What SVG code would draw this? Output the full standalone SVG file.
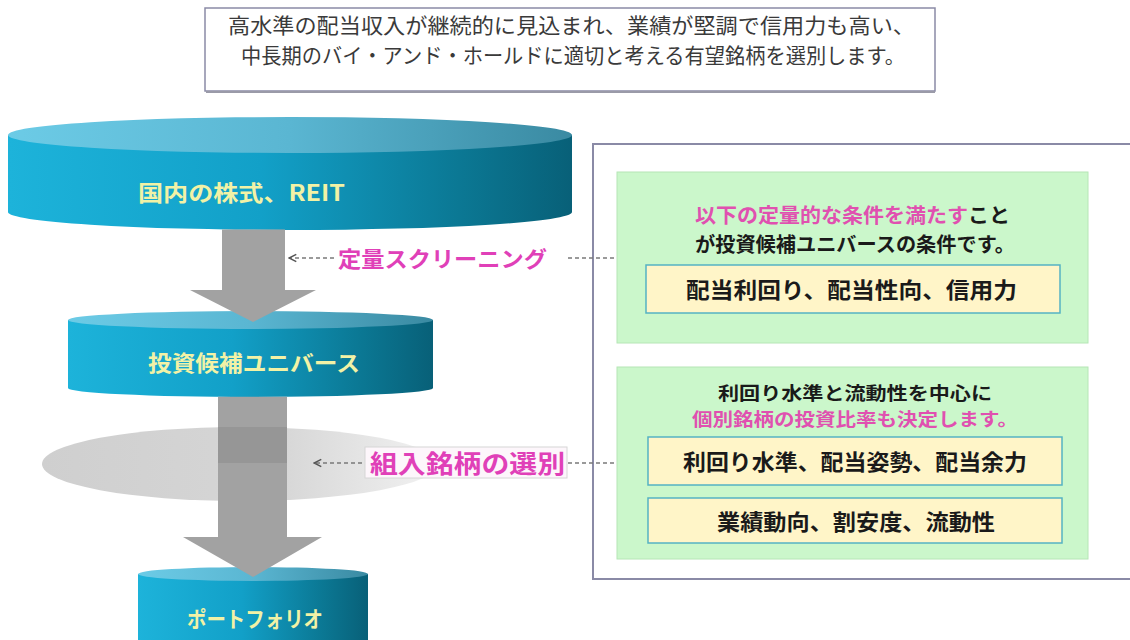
<svg xmlns="http://www.w3.org/2000/svg" width="1130" height="640" viewBox="0 0 1130 640">
<style>
.t{font-family:"Noto Sans CJK JP","Noto Sans",sans-serif;}
.cyl{font-weight:700;fill:#f2f2a6;font-size:22px;}
.lbl{font-weight:700;fill:#e040b8;}
.blk{font-weight:700;fill:#1a1a1a;font-size:18px;}
.pk{font-weight:700;fill:#e050b0;font-size:18px;}
.ybt{font-weight:700;fill:#1a1a1a;font-size:22px;}
.green{fill:#cbf7cb;stroke:#b6e6b6;stroke-width:1;}
.ybox{fill:#fff5c8;stroke:#55b2c4;stroke-width:1.5;}
.dash{stroke:#7a7a7a;stroke-width:1.3;stroke-dasharray:4 3;fill:none;}
.shaft{fill:#a2a2a2;}
</style>
<defs>
<linearGradient id="body" x1="0" y1="0" x2="1" y2="0">
<stop offset="0" stop-color="#1db3da"/>
<stop offset="0.45" stop-color="#12a0c8"/>
<stop offset="0.8" stop-color="#0b7894"/>
<stop offset="1" stop-color="#086078"/>
</linearGradient>
<linearGradient id="top" x1="0" y1="0" x2="1" y2="0">
<stop offset="0" stop-color="#6ccbe6"/>
<stop offset="0.5" stop-color="#5ab6d2"/>
<stop offset="1" stop-color="#3a8aa2"/>
</linearGradient>
<linearGradient id="gray" x1="0" y1="0" x2="1" y2="0">
<stop offset="0" stop-color="#cfcfcf"/>
<stop offset="0.6" stop-color="#d6d6d6"/>
<stop offset="1" stop-color="#f2f2f2"/>
</linearGradient>
<marker id="open" viewBox="0 0 10 10" refX="9" refY="5" markerWidth="7" markerHeight="7" orient="auto">
<path d="M1 1 L9 5 L1 9" fill="none" stroke="#555" stroke-width="1.6"/>
</marker>
</defs>

<g id="intro">
<rect x="205" y="8" width="730" height="83" fill="#fff" stroke="#8a8aa6" stroke-width="1.5"/>
<line x1="206" y1="92" x2="935" y2="92" stroke="#9a9aa8" stroke-width="2"/>
<text class="t" x="228" y="33" font-size="21" fill="#3a3a3a" textLength="687" lengthAdjust="spacingAndGlyphs">高水準の配当収入が継続的に見込まれ、業績が堅調で信用力も高い、</text>
<text class="t" x="241" y="63" font-size="21" fill="#3a3a3a" textLength="664" lengthAdjust="spacingAndGlyphs">中長期のバイ・アンド・ホールドに適切と考える有望銘柄を選別します。</text>
</g>

<g id="panel">
<rect x="593" y="144" width="545" height="435" fill="#fff" stroke="#8a8aa6" stroke-width="2"/>
</g>

<g id="selection-disc">
<ellipse cx="240" cy="464" rx="198" ry="37" fill="url(#gray)"/>
</g>

<g id="universe-all">
<path d="M8 135 V212 A282 18 0 0 0 572 212 V135 Z" fill="url(#body)"/>
<ellipse cx="290" cy="135" rx="282" ry="18" fill="url(#top)"/>
<text class="t cyl" x="138" y="201" textLength="207" lengthAdjust="spacingAndGlyphs">国内の株式、REIT</text>
</g>

<g id="universe-candidates">
<path d="M68 320 V388 A182.5 9 0 0 0 433 388 V320 Z" fill="url(#body)"/>
<ellipse cx="250.5" cy="320" rx="182.5" ry="9" fill="url(#top)"/>
<text class="t cyl" x="148" y="371" textLength="212" lengthAdjust="spacingAndGlyphs">投資候補ユニバース</text>
</g>

<g id="portfolio">
<path d="M138 574 V645 A115 7 0 0 0 368 645 V574 Z" fill="url(#body)"/>
<ellipse cx="253" cy="574" rx="115" ry="7" fill="url(#top)"/>
<text class="t cyl" x="187" y="627" textLength="136" lengthAdjust="spacingAndGlyphs">ポートフォリオ</text>
</g>

<g id="connectors">
<path class="shaft" d="M222 229.5 L285 229.5 L285 290 L316 290 L253 322 L190 290 L222 290 Z"/>
<path class="shaft" d="M218 396.8 L287 396.8 L287 537 L322 537 L253 577 L183 537 L218 537 Z"/>
<rect x="218" y="427" width="69" height="36" fill="#000" opacity="0.07"/>
<line class="dash" x1="334" y1="258" x2="289" y2="258" marker-end="url(#open)"/>
<line class="dash" x1="568" y1="258" x2="617" y2="258"/>
<line class="dash" x1="362" y1="463" x2="314" y2="463" marker-end="url(#open)"/>
<line class="dash" x1="568" y1="463" x2="617" y2="463"/>
</g>

<g id="label-screening">
<text class="t lbl" x="338" y="267" font-size="22" textLength="209" lengthAdjust="spacingAndGlyphs">定量スクリーニング</text>
</g>

<g id="label-selection">
<rect x="365" y="447" width="202" height="31" fill="#fdf6fb" stroke="#d6d6d6" stroke-width="1"/>
<text class="t lbl" x="370" y="473" font-size="25" textLength="195" lengthAdjust="spacingAndGlyphs">組入銘柄の選別</text>
</g>

<g id="criteria-quant">
<rect class="green" x="617" y="172" width="471" height="171"/>
<text class="t" x="695" y="223" font-size="20" font-weight="700" textLength="315" lengthAdjust="spacingAndGlyphs"><tspan fill="#e050b0">以下の定量的な条件を満たす</tspan><tspan fill="#1a1a1a">こと</tspan></text>
<text class="t" x="695" y="252" font-size="20" font-weight="700" fill="#1a1a1a" textLength="320" lengthAdjust="spacingAndGlyphs">が投資候補ユニバースの条件です。</text>
<rect class="ybox" x="646" y="265" width="414" height="48"/>
<text class="t ybt" x="686" y="298" textLength="331" lengthAdjust="spacingAndGlyphs">配当利回り、配当性向、信用力</text>
</g>

<g id="criteria-select">
<rect class="green" x="617" y="367" width="471" height="192"/>
<text class="t blk" x="718" y="400" textLength="274" lengthAdjust="spacingAndGlyphs">利回り水準と流動性を中心に</text>
<text class="t pk" x="692" y="426" textLength="326" lengthAdjust="spacingAndGlyphs">個別銘柄の投資比率も決定します。</text>
<rect class="ybox" x="648" y="437" width="414" height="48"/>
<text class="t ybt" x="683" y="470" textLength="344" lengthAdjust="spacingAndGlyphs">利回り水準、配当姿勢、配当余力</text>
<rect class="ybox" x="648" y="498" width="414" height="45"/>
<text class="t ybt" x="717" y="530" textLength="278" lengthAdjust="spacingAndGlyphs">業績動向、割安度、流動性</text>
</g>
</svg>
